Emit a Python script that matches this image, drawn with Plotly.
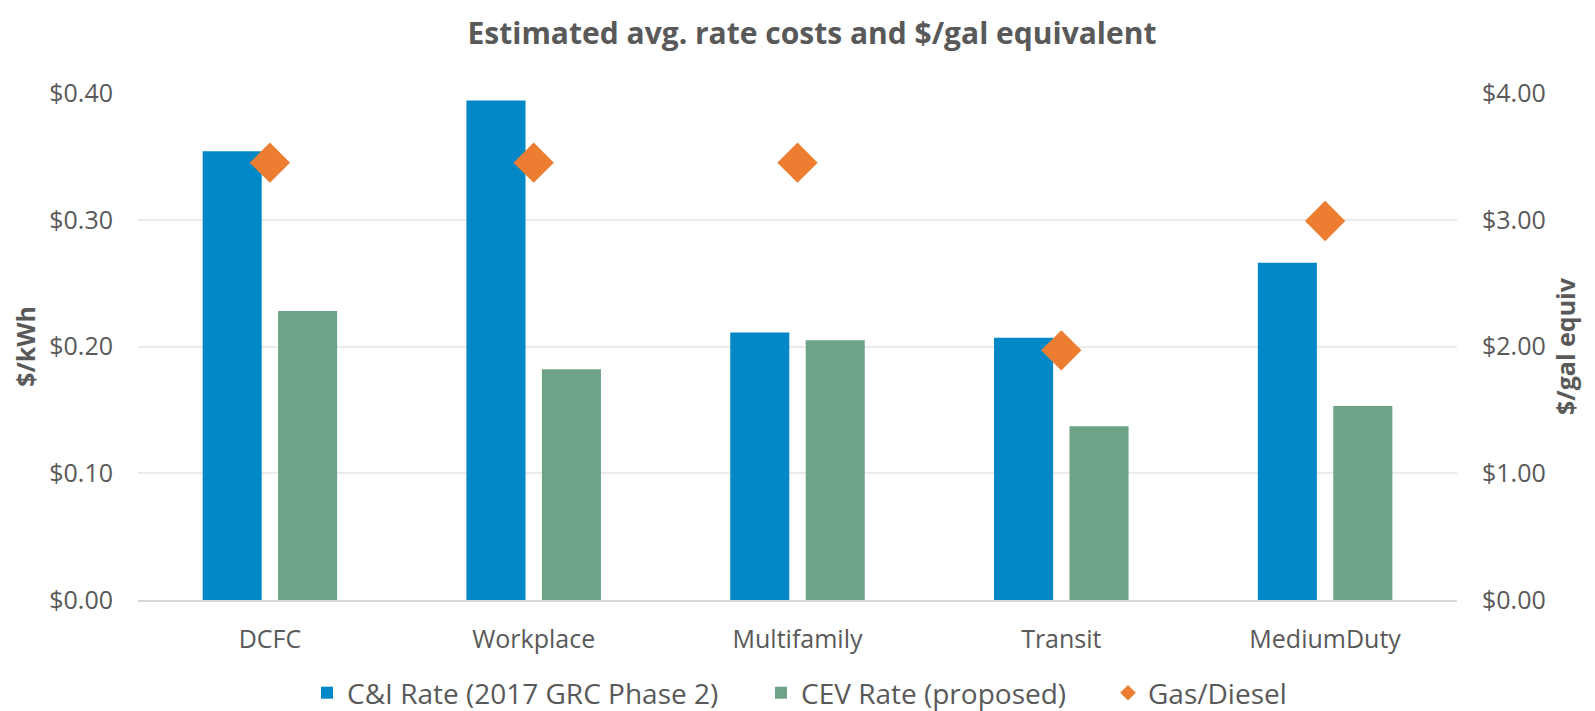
import plotly.graph_objects as go

categories = ["DCFC", "Workplace", "Multifamily", "Transit", "MediumDuty"]
ci_rate = [0.354, 0.394, 0.211, 0.207, 0.266]
cev_rate = [0.228, 0.182, 0.205, 0.137, 0.153]
gas_diesel = [3.45, 3.45, 3.45, 1.97, 2.99]

BLUE = "#0288C7"
GREEN = "#6FA388"
ORANGE = "#ED7D31"
TXT = "#595959"
FONT = "Open Sans"

# figure is offset by the 8px default page margin
W, H = 1587, 703

fig = go.Figure()
fig.add_trace(go.Bar(x=categories, y=ci_rate, name="C&I Rate (2017 GRC Phase 2)",
                     marker=dict(color=BLUE, line=dict(width=0)), legend="legend"))
fig.add_trace(go.Bar(x=categories, y=cev_rate, name="CEV Rate (proposed)",
                     marker=dict(color=GREEN, line=dict(width=0)), legend="legend2"))
fig.add_trace(go.Scatter(x=categories, y=gas_diesel, name="Gas/Diesel", yaxis="y2",
                         mode="markers", legend="legend3",
                         marker=dict(symbol="diamond", size=31, color=ORANGE, line=dict(width=0))))

leg_common = dict(orientation="h", xref="container", yref="container", xanchor="left",
                  y=1 - 685 / H, yanchor="middle", font=dict(size=28, color=TXT, family=FONT),
                  itemsizing="constant", bgcolor="rgba(0,0,0,0)", borderwidth=0, visible=True)

fig.update_layout(
    width=W, height=H, showlegend=True,
    paper_bgcolor="white", plot_bgcolor="white",
    font=dict(family=FONT, color=TXT, size=25),
    margin=dict(l=130, r=138, t=85, b=111, pad=0),
    title=dict(text="<b>Estimated avg. rate costs and $/gal equivalent</b>",
               x=(812 - 8) / W, xanchor="center", xref="container", y=1 - 25 / H, yanchor="middle",
               font=dict(size=30, color=TXT, family=FONT)),
    barmode="group", bargap=0.428, bargroupgap=0.217,
    xaxis=dict(showgrid=False, showline=True, linecolor="#D9D9D9", linewidth=2,
               ticks="", ticklabelstandoff=16, automargin=False,
               tickfont=dict(size=25, color=TXT)),
    yaxis=dict(range=[0, 0.4], dtick=0.1, tickprefix="$", tickformat=".2f",
               showgrid=True, gridcolor="#EBEBEB", gridwidth=2, zeroline=False,
               showline=False, ticks="", ticklabelstandoff=24, automargin=False,
               tickfont=dict(size=25, color=TXT),
               title=dict(text="<b>$/kWh</b>", font=dict(size=25, color=TXT), standoff=12)),
    yaxis2=dict(range=[0, 4], dtick=1, tickprefix="$", tickformat=".2f",
                overlaying="y", side="right", showgrid=False, zeroline=False,
                ticks="", ticklabelstandoff=24, automargin=False,
                tickfont=dict(size=25, color=TXT),
                title=dict(text="<b>$/gal equiv</b>", font=dict(size=25, color=TXT), standoff=12)),
    legend=dict(x=299 / W, **leg_common),
    legend2=dict(x=753 / W, **leg_common),
    legend3=dict(x=1100 / W, **leg_common),
)

fig.write_html("out.html")
